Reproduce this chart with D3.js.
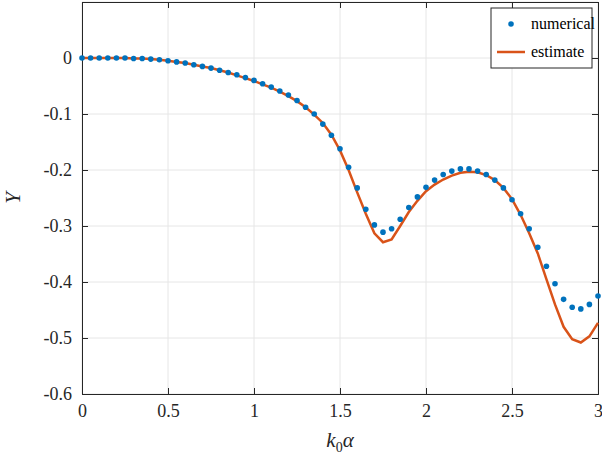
<!DOCTYPE html><html><head><meta charset="utf-8"><script src="https://cdn.jsdelivr.net/npm/d3@7"></script>
<style>body{margin:0;background:#fff}text{font-family:"Liberation Serif",serif}</style></head><body><svg id="c" width="602" height="458"></svg><script>
const xs = d3.range(61).map(i=>i*0.05);
const numerical = [0,0,0,0,0,0,-0.001,-0.001,-0.002,-0.003,-0.005,-0.007,-0.009,-0.012,-0.015,-0.018,-0.022,-0.026,-0.030,-0.035,-0.040,-0.046,-0.052,-0.059,-0.066,-0.076,
-0.088,-0.100,-0.118,-0.138,-0.162,-0.195,-0.232,-0.270,-0.298,-0.311,-0.305,-0.288,-0.267,-0.248,-0.231,-0.218,-0.208,-0.202,-0.198,-0.198,-0.202,-0.208,-0.218,-0.232,-0.253,-0.278,-0.305,-0.338,-0.372,-0.403,-0.431,-0.445,-0.448,-0.440,-0.425];
const estimate = [0,0,0,0,0,0,-0.001,-0.001,-0.002,-0.003,-0.005,-0.007,-0.009,-0.012,-0.015,-0.018,-0.022,-0.026,-0.031,-0.036,-0.041,-0.047,-0.053,-0.060,-0.068,-0.077,
-0.088,-0.101,-0.116,-0.137,-0.165,-0.200,-0.240,-0.278,-0.313,-0.329,-0.324,-0.300,-0.275,-0.255,-0.238,-0.226,-0.217,-0.210,-0.205,-0.203,-0.204,-0.209,-0.218,-0.232,-0.252,-0.280,-0.313,-0.349,-0.395,-0.440,-0.480,-0.502,-0.508,-0.497,-0.473];
const xTicks=[0,0.5,1,1.5,2,2.5,3], yTicks=[0,-0.1,-0.2,-0.3,-0.4,-0.5,-0.6];
const svg=d3.select("#c");
const L=82,R=598,T=2,B=394;
const x=d3.scaleLinear([0,3],[L,R]), y=d3.scaleLinear([-0.6,0.1],[B,T]);
const g=svg.append("g");
g.selectAll(".gx").data(xTicks).join("line").attr("x1",d=>x(d)).attr("x2",d=>x(d)).attr("y1",T).attr("y2",B).attr("stroke","#e6e6e6");
g.selectAll(".gy").data(yTicks.concat([0.1])).join("line").attr("y1",d=>y(d)).attr("y2",d=>y(d)).attr("x1",L).attr("x2",R).attr("stroke","#e6e6e6");
svg.append("g").attr("transform",`translate(0,${B})`).call(d3.axisBottom(x).tickValues(xTicks).tickSize(-6).tickPadding(10).tickFormat(d=>String(d)));
svg.append("g").attr("transform",`translate(${L},0)`).call(d3.axisLeft(y).tickValues(yTicks).tickSize(-6).tickPadding(10).tickFormat(d=>String(d)));
svg.append("g").attr("transform",`translate(0,${T})`).call(d3.axisTop(x).tickValues(xTicks).tickSize(-6).tickFormat(""));
svg.append("g").attr("transform",`translate(${R},0)`).call(d3.axisRight(y).tickValues(yTicks).tickSize(-6).tickFormat(""));
svg.selectAll(".domain,.tick line").attr("stroke","#262626");
svg.selectAll(".tick text").style("font-size","18px").style("font-family","'Liberation Serif',serif").attr("fill","#262626");
svg.append("path").datum(xs.map((d,i)=>[d,estimate[i]])).attr("fill","none").attr("stroke","#d95319").attr("stroke-width",2.5)
 .attr("d",d3.line().x(d=>x(d[0])).y(d=>y(d[1])));
svg.selectAll(".dot").data(xs.map((d,i)=>[d,numerical[i]])).join("circle").attr("cx",d=>x(d[0])).attr("cy",d=>y(d[1])).attr("r",2.8).attr("fill","#0072bd");
svg.append("text").attr("x",(L+R)/2).attr("y",447).attr("text-anchor","middle").attr("font-size",21).attr("font-style","italic").attr("fill","#262626")
 .html('k<tspan font-style="normal" font-size="14" dy="5">0</tspan><tspan dy="-5">α</tspan>');
svg.append("text").attr("transform",`translate(20,${(T+B)/2}) rotate(-90)`).attr("text-anchor","middle").attr("font-size",21).attr("font-style","italic").attr("fill","#262626").text("Y");
const lg=svg.append("g");
lg.append("rect").attr("x",491).attr("y",8).attr("width",101).attr("height",60).attr("fill","#fff").attr("stroke","#262626");
lg.append("circle").attr("cx",511).attr("cy",24).attr("r",2.8).attr("fill","#0072bd");
lg.append("line").attr("x1",497).attr("x2",525).attr("y1",52).attr("y2",52).attr("stroke","#d95319").attr("stroke-width",2.5);
lg.append("text").attr("x",531).attr("y",29).attr("font-size",16).text("numerical");
lg.append("text").attr("x",531).attr("y",57).attr("font-size",16).text("estimate");
</script></body></html>
